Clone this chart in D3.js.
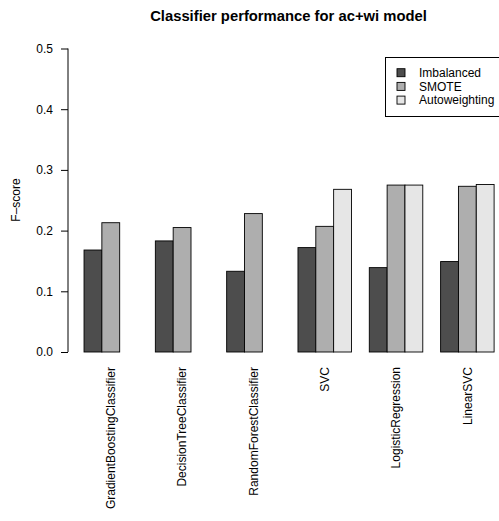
<!DOCTYPE html>
<html>
<head>
<meta charset="utf-8">
<script src="https://cdn.jsdelivr.net/npm/d3@7"></script>
<style>
  html, body { margin: 0; padding: 0; background: #fff; }
  text { font-family: "Liberation Sans", Arial, Helvetica, sans-serif; fill: #000; }
</style>
</head>
<body>
<svg id="chart" width="499" height="521"></svg>
<script>
const categories = ["GradientBoostingClassifier", "DecisionTreeClassifier", "RandomForestClassifier", "SVC", "LogisticRegression", "LinearSVC"];
const seriesNames = ["Imbalanced", "SMOTE", "Autoweighting"];
const imbalanced = [0.168, 0.183, 0.133, 0.172, 0.139, 0.149];
const smote = [0.213, 0.205, 0.228, 0.207, 0.275, 0.273];
const autoweighting = [null, null, null, 0.268, 0.275, 0.276];
const colors = ["#4D4D4D", "#AEAEAE", "#E6E6E6"];
const yTicks = [0.0, 0.1, 0.2, 0.3, 0.4, 0.5];
const title = "Classifier performance for ac+wi model";
const yLabel = "F\u2013score";

const series = [imbalanced, smote, autoweighting];
const svg = d3.select("#chart");

// unit scale: each group = 3 bars + 1 space
const nUnits = categories.length * 4;
const x = d3.scaleLinear().domain([0, nUnits]).range([66.2, 494.1]);
const y = d3.scaleLinear().domain([0, 0.5]).range([352, 48.5]);

// bars
const bars = [];
categories.forEach((c, i) => {
  series.forEach((s, j) => {
    const v = s[i];
    if (v !== null && v !== undefined) bars.push({i, j, v});
  });
});
svg.append("g").selectAll("rect").data(bars).join("rect")
  .attr("x", d => x(d.i * 4 + 1 + d.j))
  .attr("width", d => x(1) - x(0))
  .attr("y", d => y(d.v))
  .attr("height", d => y(0) - y(d.v))
  .attr("fill", d => colors[d.j])
  .attr("stroke", "#000")
  .attr("stroke-width", 0.9);

// y axis
const yAxis = d3.axisLeft(y).tickValues(yTicks).tickFormat(d3.format(".1f")).tickSize(7).tickPadding(8);
const gy = svg.append("g").attr("transform", "translate(68,0)").call(yAxis);
gy.select(".domain").attr("d", `M0,${y(0)}V${y(0.5)}`).attr("stroke", "#000").attr("fill", "none");
gy.selectAll(".tick line").attr("stroke", "#000");
gy.selectAll(".tick text").attr("font-size", 12).attr("font-family", "Liberation Sans, Arial, sans-serif").attr("fill", "#000");

// category labels
svg.append("g").selectAll("text").data(categories).join("text")
  .attr("transform", (d, i) => `translate(${x(i * 4 + 2.5)},367) rotate(-90)`)
  .attr("text-anchor", "end")
  .attr("dy", "0.35em")
  .attr("font-size", 12)
  .text(d => d);

// title
svg.append("text")
  .attr("x", 288.5).attr("y", 21)
  .attr("text-anchor", "middle")
  .attr("font-size", 14.8)
  .attr("font-weight", "bold")
  .text(title);

// y label
svg.append("text")
  .attr("transform", "translate(20,200) rotate(-90)")
  .attr("text-anchor", "middle")
  .attr("font-size", 12)
  .text(yLabel);

// legend
const lg = svg.append("g");
lg.append("rect").attr("x", 385.5).attr("y", 57.5).attr("width", 130).attr("height", 59)
  .attr("fill", "#fff").attr("stroke", "#000").attr("stroke-width", 1);
seriesNames.forEach((n, j) => {
  const cy = 72.7 + j * 13.7;
  lg.append("rect").attr("x", 397).attr("y", cy - 4).attr("width", 8).attr("height", 8)
    .attr("fill", colors[j]).attr("stroke", "#000").attr("stroke-width", 0.9);
  lg.append("text").attr("x", 419).attr("y", cy).attr("dy", "0.35em")
    .attr("font-size", 12).text(n);
});
</script>
</body>
</html>
